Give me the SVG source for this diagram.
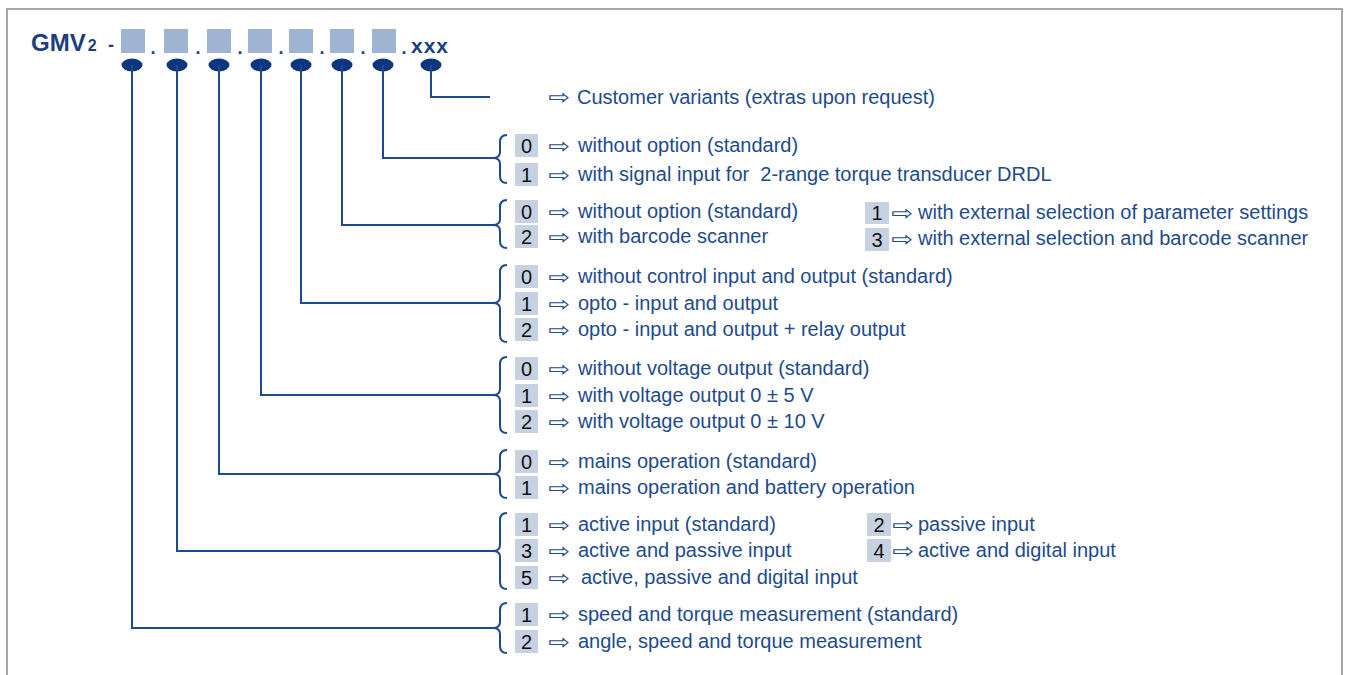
<svg xmlns="http://www.w3.org/2000/svg" width="1349" height="675" viewBox="0 0 1349 675">
<style>
.t{font-family:"Liberation Sans",Arial,sans-serif;font-size:20px;fill:#1e4b8c}
.d{font-family:"Liberation Sans",Arial,sans-serif;font-size:20px;fill:#111;text-anchor:middle}
.ar{font-family:"DejaVu Sans",sans-serif;font-size:20px;fill:#1e4b8c}
.h{font-family:"Liberation Sans",Arial,sans-serif;font-weight:bold;fill:#1a3f7e}
.box{fill:#c6d1e1}
.sq{fill:#9fb4d2}
.ln{fill:none;stroke:#1d4a8e;stroke-width:2}
.br{fill:none;stroke:#1d4a8e;stroke-width:2}
.el{fill:#0c3680}
</style>
<rect x="0" y="0" width="1349" height="675" fill="#fff"/>
<path d="M7 680 V9 H1342 V680" fill="none" stroke="#a8a8a8" stroke-width="2"/>

<g id="code">
<text class="h" x="31" y="51" font-size="24">GMV<tspan font-size="16" dx="2">2</tspan></text>
<text class="h" x="108" y="51" font-size="18">-</text>
<rect class="sq" x="121" y="29" width="24" height="24"/>
<rect class="sq" x="164" y="29" width="24" height="24"/>
<rect class="sq" x="207" y="29" width="24" height="24"/>
<rect class="sq" x="248" y="29" width="24" height="24"/>
<rect class="sq" x="289" y="29" width="24" height="24"/>
<rect class="sq" x="330" y="29" width="24" height="24"/>
<rect class="sq" x="372" y="29" width="24" height="24"/>
<g class="h" font-size="18" text-anchor="middle">
<text x="153" y="54">.</text><text x="198" y="54">.</text><text x="240" y="54">.</text><text x="281" y="54">.</text><text x="322" y="54">.</text><text x="363" y="54">.</text><text x="404" y="54">.</text>
</g>
<text class="h" x="411" y="53" font-size="21" letter-spacing="1">xxx</text>
<ellipse class="el" cx="132" cy="65" rx="10.5" ry="6.5"/>
<ellipse class="el" cx="177" cy="65" rx="10.5" ry="6.5"/>
<ellipse class="el" cx="219" cy="65" rx="10.5" ry="6.5"/>
<ellipse class="el" cx="261" cy="65" rx="10.5" ry="6.5"/>
<ellipse class="el" cx="301" cy="65" rx="10.5" ry="6.5"/>
<ellipse class="el" cx="342" cy="65" rx="10.5" ry="6.5"/>
<ellipse class="el" cx="383" cy="65" rx="10.5" ry="6.5"/>
<ellipse class="el" cx="431" cy="65" rx="10.5" ry="6.5"/>
</g>

<g id="connectors">
<path class="ln" d="M132 65 V628 H493"/>
<path class="ln" d="M177 65 V551 H493"/>
<path class="ln" d="M219 65 V474 H493"/>
<path class="ln" d="M261 65 V395 H493"/>
<path class="ln" d="M301 65 V303 H493"/>
<path class="ln" d="M342 65 V225 H493"/>
<path class="ln" d="M383 65 V158 H493"/>
<path class="ln" d="M431 65 V97 H490"/>
</g>

<g id="opt-customer">
<text class="ar" transform="translate(548 104) scale(1.3 1)">⇨</text>
<text class="t" x="577" y="104">Customer variants (extras upon request)</text>
</g>

<g id="opt-g1">
<path class="br" d="M507 135 Q500 135 500 142 V152 Q500 158 493 158 Q500 158 500 164 V176 Q500 183 507 183"/>
<rect class="box" x="515" y="134" width="23" height="23"/><text class="d" x="526.5" y="153">0</text>
<text class="ar" transform="translate(548 153) scale(1.3 1)">⇨</text><text class="t" x="578" y="152">without option (standard)</text>
<rect class="box" x="515" y="163" width="23" height="23"/><text class="d" x="526.5" y="182">1</text>
<text class="ar" transform="translate(548 182) scale(1.3 1)">⇨</text><text class="t" x="578" y="181" xml:space="preserve">with signal input for  2-range torque transducer DRDL</text>
</g>

<g id="opt-g2">
<path class="br" d="M507 200 Q500 200 500 207 V219 Q500 225 493 225 Q500 225 500 231 V241 Q500 248 507 248"/>
<rect class="box" x="515" y="200" width="23" height="23"/><text class="d" x="526.5" y="219">0</text>
<text class="ar" transform="translate(548 219) scale(1.3 1)">⇨</text><text class="t" x="578" y="218">without option (standard)</text>
<rect class="box" x="515" y="225" width="23" height="23"/><text class="d" x="526.5" y="244">2</text>
<text class="ar" transform="translate(548 244) scale(1.3 1)">⇨</text><text class="t" x="578" y="243">with barcode scanner</text>
<rect class="box" x="865" y="202" width="24" height="22"/><text class="d" x="877" y="220">1</text>
<text class="ar" transform="translate(891 220) scale(1.3 1)">⇨</text><text class="t" x="918" y="219">with external selection of parameter settings</text>
<rect class="box" x="865" y="228" width="24" height="23"/><text class="d" x="877" y="247">3</text>
<text class="ar" transform="translate(891 246) scale(1.3 1)">⇨</text><text class="t" x="918" y="245">with external selection and barcode scanner</text>
</g>

<g id="opt-g3">
<path class="br" d="M507 265 Q500 265 500 272 V297 Q500 303 493 303 Q500 303 500 309 V335 Q500 342 507 342"/>
<rect class="box" x="515" y="265" width="23" height="23"/><text class="d" x="526.5" y="284">0</text>
<text class="ar" transform="translate(548 284) scale(1.3 1)">⇨</text><text class="t" x="578" y="283">without control input and output (standard)</text>
<rect class="box" x="515" y="292" width="23" height="23"/><text class="d" x="526.5" y="311">1</text>
<text class="ar" transform="translate(548 311) scale(1.3 1)">⇨</text><text class="t" x="578" y="310">opto - input and output</text>
<rect class="box" x="515" y="318" width="23" height="23"/><text class="d" x="526.5" y="337">2</text>
<text class="ar" transform="translate(548 337) scale(1.3 1)">⇨</text><text class="t" x="578" y="336">opto - input and output + relay output</text>
</g>

<g id="opt-g4">
<path class="br" d="M507 357 Q500 357 500 364 V389 Q500 395 493 395 Q500 395 500 401 V426 Q500 433 507 433"/>
<rect class="box" x="515" y="357" width="23" height="23"/><text class="d" x="526.5" y="376">0</text>
<text class="ar" transform="translate(548 376) scale(1.3 1)">⇨</text><text class="t" x="578" y="375">without voltage output (standard)</text>
<rect class="box" x="515" y="384" width="23" height="23"/><text class="d" x="526.5" y="403">1</text>
<text class="ar" transform="translate(548 403) scale(1.3 1)">⇨</text><text class="t" x="578" y="402">with voltage output 0 ± 5 V</text>
<rect class="box" x="515" y="410" width="23" height="23"/><text class="d" x="526.5" y="429">2</text>
<text class="ar" transform="translate(548 429) scale(1.3 1)">⇨</text><text class="t" x="578" y="428">with voltage output 0 ± 10 V</text>
</g>

<g id="opt-g5">
<path class="br" d="M507 450 Q500 450 500 457 V468 Q500 474 493 474 Q500 474 500 480 V491 Q500 498 507 498"/>
<rect class="box" x="515" y="450" width="23" height="23"/><text class="d" x="526.5" y="469">0</text>
<text class="ar" transform="translate(548 469) scale(1.3 1)">⇨</text><text class="t" x="578" y="468">mains operation (standard)</text>
<rect class="box" x="515" y="476" width="23" height="23"/><text class="d" x="526.5" y="495">1</text>
<text class="ar" transform="translate(548 495) scale(1.3 1)">⇨</text><text class="t" x="578" y="494">mains operation and battery operation</text>
</g>

<g id="opt-g6">
<path class="br" d="M507 513 Q500 513 500 520 V545 Q500 551 493 551 Q500 551 500 557 V582 Q500 589 507 589"/>
<rect class="box" x="515" y="513" width="23" height="23"/><text class="d" x="526.5" y="532">1</text>
<text class="ar" transform="translate(548 532) scale(1.3 1)">⇨</text><text class="t" x="578" y="531">active input (standard)</text>
<rect class="box" x="515" y="539" width="23" height="23"/><text class="d" x="526.5" y="558">3</text>
<text class="ar" transform="translate(548 558) scale(1.3 1)">⇨</text><text class="t" x="578" y="557">active and passive input</text>
<rect class="box" x="515" y="566" width="23" height="23"/><text class="d" x="526.5" y="585">5</text>
<text class="ar" transform="translate(548 585) scale(1.3 1)">⇨</text><text class="t" x="581" y="584">active, passive and digital input</text>
<rect class="box" x="867" y="513" width="24" height="23"/><text class="d" x="879" y="532">2</text>
<text class="ar" transform="translate(892 532) scale(1.3 1)">⇨</text><text class="t" x="918" y="531">passive input</text>
<rect class="box" x="867" y="539" width="24" height="23"/><text class="d" x="879" y="558">4</text>
<text class="ar" transform="translate(892 558) scale(1.3 1)">⇨</text><text class="t" x="918" y="557">active and digital input</text>
</g>

<g id="opt-g7">
<path class="br" d="M507 603 Q500 603 500 610 V622 Q500 628 493 628 Q500 628 500 634 V646 Q500 653 507 653"/>
<rect class="box" x="515" y="603" width="23" height="23"/><text class="d" x="526.5" y="622">1</text>
<text class="ar" transform="translate(548 622) scale(1.3 1)">⇨</text><text class="t" x="578" y="621">speed and torque measurement (standard)</text>
<rect class="box" x="515" y="630" width="23" height="23"/><text class="d" x="526.5" y="649">2</text>
<text class="ar" transform="translate(548 649) scale(1.3 1)">⇨</text><text class="t" x="578" y="648">angle, speed and torque measurement</text>
</g>
</svg>
